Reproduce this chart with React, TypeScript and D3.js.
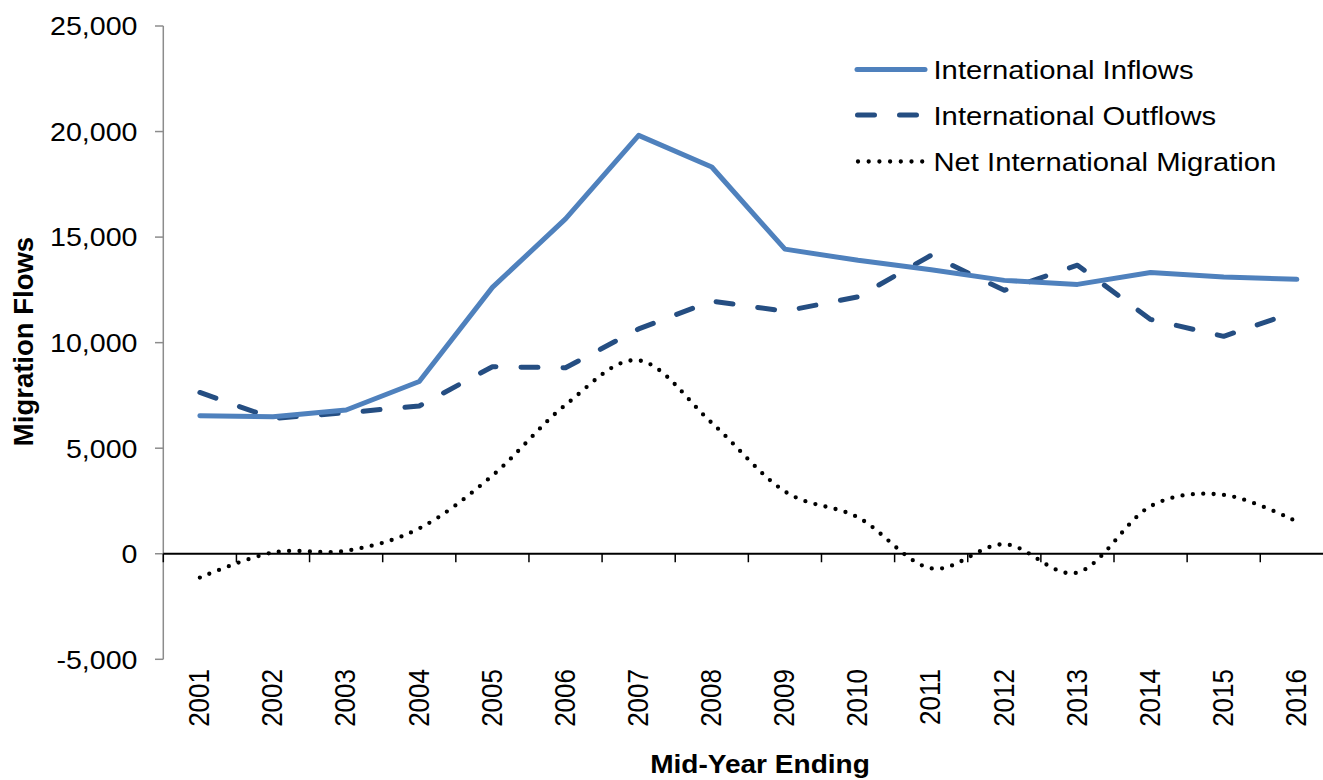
import React from "react";
import * as d3 from "d3";

const years = ["2001","2002","2003","2004","2005","2006","2007","2008","2009","2010","2011","2012","2013","2014","2015","2016"];
const inflows = [6540, 6490, 6810, 8160, 12620, 15860, 19820, 18320, 14430, 13900, 13450, 12950, 12760, 13320, 13110, 13000];
const outflows = [7640, 6410, 6680, 7000, 8860, 8810, 10650, 11970, 11490, 12170, 14140, 12480, 13670, 11100, 10300, 11480];
const netMigration = [-1130, 60, 140, 1200, 3700, 7050, 9160, 6200, 2950, 1720, -690, 450, -890, 2250, 2790, 1520];
const yTicks = [-5000, 0, 5000, 10000, 15000, 20000, 25000];
const seriesNames = ["International Inflows", "International Outflows", "Net International Migration"];

const W = 1323, H = 780;
const FONT = "Liberation Sans, Arial, sans-serif";
const SX = 1.1;

export default function App() {
  const x = d3.scaleBand<string>().domain(years).range([163.3, 1333.4]).padding(0);
  const y = d3.scaleLinear().domain([-5000, 25000]).range([659.3, 26]);
  const cx = (i: number) => (x(years[i]) as number) + x.bandwidth() / 2;

  const lineLin = d3.line<number>().x((_, i) => cx(i)).y((d) => y(d)).curve(d3.curveLinear);
  const lineSmooth = d3.line<number>().x((_, i) => cx(i)).y((d) => y(d)).curve(d3.curveCardinal.tension(0));

  const fmt = (v: number) => d3.format(",")(v).replace("\u2212", "-");
  const x0 = 163.3;
  const zeroY = y(0);

  const legendRows = [
    { name: seriesNames[0], y: 69.5, stroke: "#4F81BD", dash: undefined as string | undefined, width: 5, x1: 857, x2: 925 },
    { name: seriesNames[1], y: 115, stroke: "#254E82", dash: "17 25", width: 5, x1: 857.5, x2: 925 },
    { name: seriesNames[2], y: 161.5, stroke: "#000", dash: "0 10.7", width: 4.3, x1: 858, x2: 925 },
  ];

  return (
    <svg width={W} height={H} style={{ position: "absolute", left: 0, top: 0, background: "#fff" }} fontFamily={FONT}>
      <rect x={0} y={0} width={W} height={H} fill="#fff" />
      {/* Y axis */}
      <line x1={x0} x2={x0} y1={y(25000)} y2={y(-5000)} stroke="#8c8c8c" strokeWidth={1.5} />
      {yTicks.map((t) => (
        <g key={t}>
          <line x1={155} x2={x0} y1={y(t)} y2={y(t)} stroke="#8c8c8c" strokeWidth={1.5} />
          <text transform={`translate(137.5,${y(t) + 9.3}) scale(${SX},1)`} textAnchor="end" fontSize={26} fill="#000">
            {fmt(t)}
          </text>
        </g>
      ))}
      {/* zero axis line */}
      <line x1={x0} x2={W} y1={zeroY} y2={zeroY} stroke="#000" strokeWidth={2} />
      {years.map((yr) => (
        <line key={"t" + yr} x1={(x(yr) as number) + x.bandwidth()} x2={(x(yr) as number) + x.bandwidth()} y1={zeroY} y2={zeroY + 8.5} stroke="#000" strokeWidth={1.5} />
      ))}
      <line x1={x0} x2={x0} y1={zeroY} y2={zeroY + 8.5} stroke="#000" strokeWidth={1.5} />
      {/* X tick labels */}
      {years.map((yr, i) => (
        <text key={"l" + yr} transform={`translate(${cx(i) + 9.3},669) scale(${SX},1) rotate(-90)`} textAnchor="end" fontSize={26} fill="#000">
          {yr}
        </text>
      ))}
      {/* axis titles */}
      <text transform={`translate(33.3,341.5) rotate(-90)`} textAnchor="middle" fontSize={27.5} fontWeight="bold" fill="#000">
        Migration Flows
      </text>
      <text transform={`translate(760,772.5) scale(${SX},1)`} textAnchor="middle" fontSize={25.5} fontWeight="bold" fill="#000">
        Mid-Year Ending
      </text>
      {/* series */}
      <path d={lineSmooth(netMigration) || ""} fill="none" stroke="#000" strokeWidth={4.3} strokeDasharray="0 10.4" strokeLinecap="round" />
      <path d={lineLin(outflows) || ""} fill="none" stroke="#254E82" strokeWidth={5} strokeDasharray="17 25" strokeLinecap="round" strokeLinejoin="round" />
      <path d={lineLin(inflows) || ""} fill="none" stroke="#4F81BD" strokeWidth={5} strokeLinecap="round" strokeLinejoin="round" />
      {/* legend */}
      {legendRows.map((r) => (
        <g key={r.name}>
          <line x1={r.x1} x2={r.x2} y1={r.y} y2={r.y} stroke={r.stroke} strokeWidth={r.width} strokeDasharray={r.dash} strokeLinecap="round" />
          <text transform={`translate(933.5,${r.y + 9.8}) scale(1.125,1)`} fontSize={26} fill="#000">
            {r.name}
          </text>
        </g>
      ))}
    </svg>
  );
}
